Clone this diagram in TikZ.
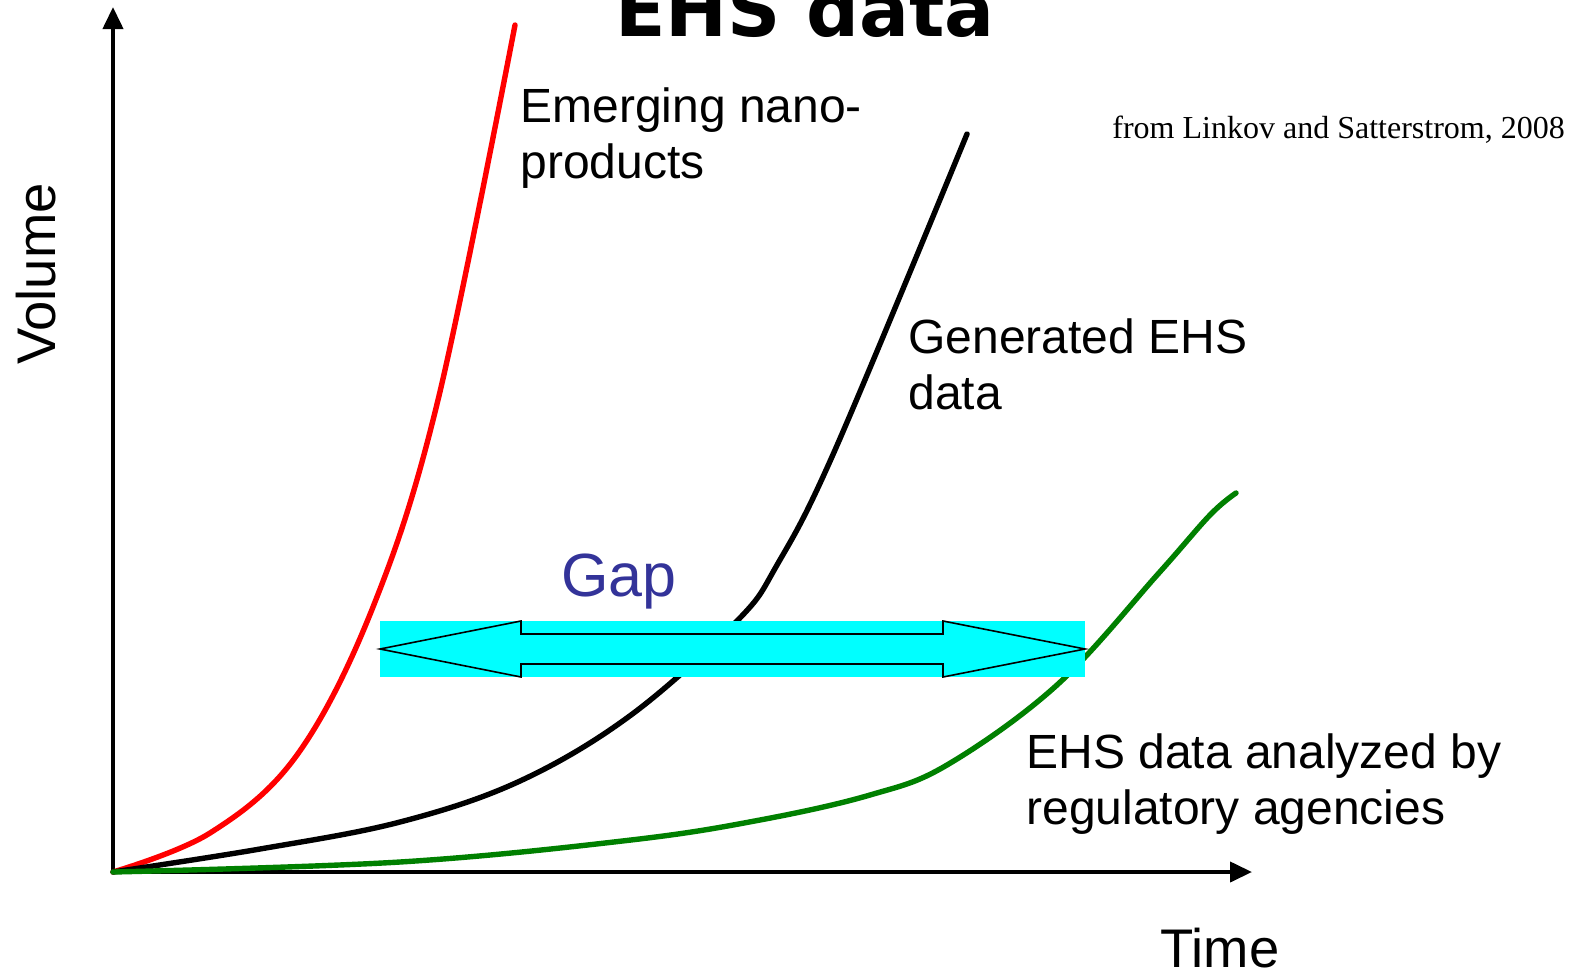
\documentclass[tikz,border=0pt]{standalone}
\usepackage{fontspec}
\setmainfont{Liberation Sans}
\newfontfamily\titlefont{DejaVu Sans}
\newfontfamily\seriffont{Liberation Serif}
\usetikzlibrary{arrows.meta}
\definecolor{gapblue}{RGB}{51,51,153}
\definecolor{dkgreen}{RGB}{0,128,0}
\definecolor{gapcyan}{RGB}{0,255,255}
\begin{document}
\begin{tikzpicture}[x=0.5pt,y=-0.5pt,
  axis/.style={line width=2pt,-{Triangle[length=11pt,width=10pt]}},
  curve/.style={line width=2.7pt,line join=round,line cap=round},
  lbl/.style={inner sep=0pt,anchor=base west,align=left,font=\fontsize{24}{27.7}\selectfont},
]
\useasboundingbox (0,0) rectangle (1579,969);
\coordinate (O) at (113,872);
\coordinate (ytop) at (113,7);
\coordinate (xend) at (1252,872);
\draw[axis] (O) -- (ytop);
\draw[axis] (O) -- (xend);
% curves
\draw[curve,red] plot[smooth,tension=0.6] coordinates {(113,872) (210,833) (297,755) (373,607) (438,400) (515,25)};
\draw[curve,black] plot[smooth,tension=0.6] coordinates {(113,872) (260,849) (400,822) (520,781) (631,715) (737,621) (777,565) (835,450) (967,134)};
\draw[curve,dkgreen] plot[smooth,tension=0.6] coordinates {(113,872) (400,862) (631,840) (760,820) (870,795) (947,765) (1057,685) (1158,574) (1210,515) (1236,493)};
% gap arrow
\fill[gapcyan] (380,621) rectangle (1085,677);
\draw[line width=0.8pt,line join=miter] (380,649) -- (521,621) -- (521,634) -- (943,634) -- (943,621) -- (1085,649) -- (943,677) -- (943,664) -- (521,664) -- (521,677) -- cycle;
% texts
\node[inner sep=0pt,anchor=base,font=\titlefont\bfseries\fontsize{37}{40}\selectfont] (title) at (805,36) {EHS data};
\node[lbl] (emerg) at (520,178) {Emerging nano-\\products};
\node[lbl] (gen) at (908,409) {Generated EHS\\data};
\node[lbl] (ana) at (1026,824) {EHS data analyzed by\\regulatory agencies};
\node[inner sep=0pt,anchor=base west,text=gapblue,font=\fontsize{30.5}{33}\selectfont] (gap) at (561,596) {Gap};
\node[inner sep=0pt,anchor=base west,font=\fontsize{27.2}{30}\selectfont] (time) at (1160,967) {Time};
\node[inner sep=0pt,anchor=base,rotate=90,font=\fontsize{27.2}{30}\selectfont] (vol) at (55,274) {Volume};
\node[inner sep=0pt,anchor=base west,font=\seriffont\fontsize{16}{18}\selectfont] (src) at (1112,138) {from Linkov and Satterstrom, 2008};
\end{tikzpicture}
\end{document}
